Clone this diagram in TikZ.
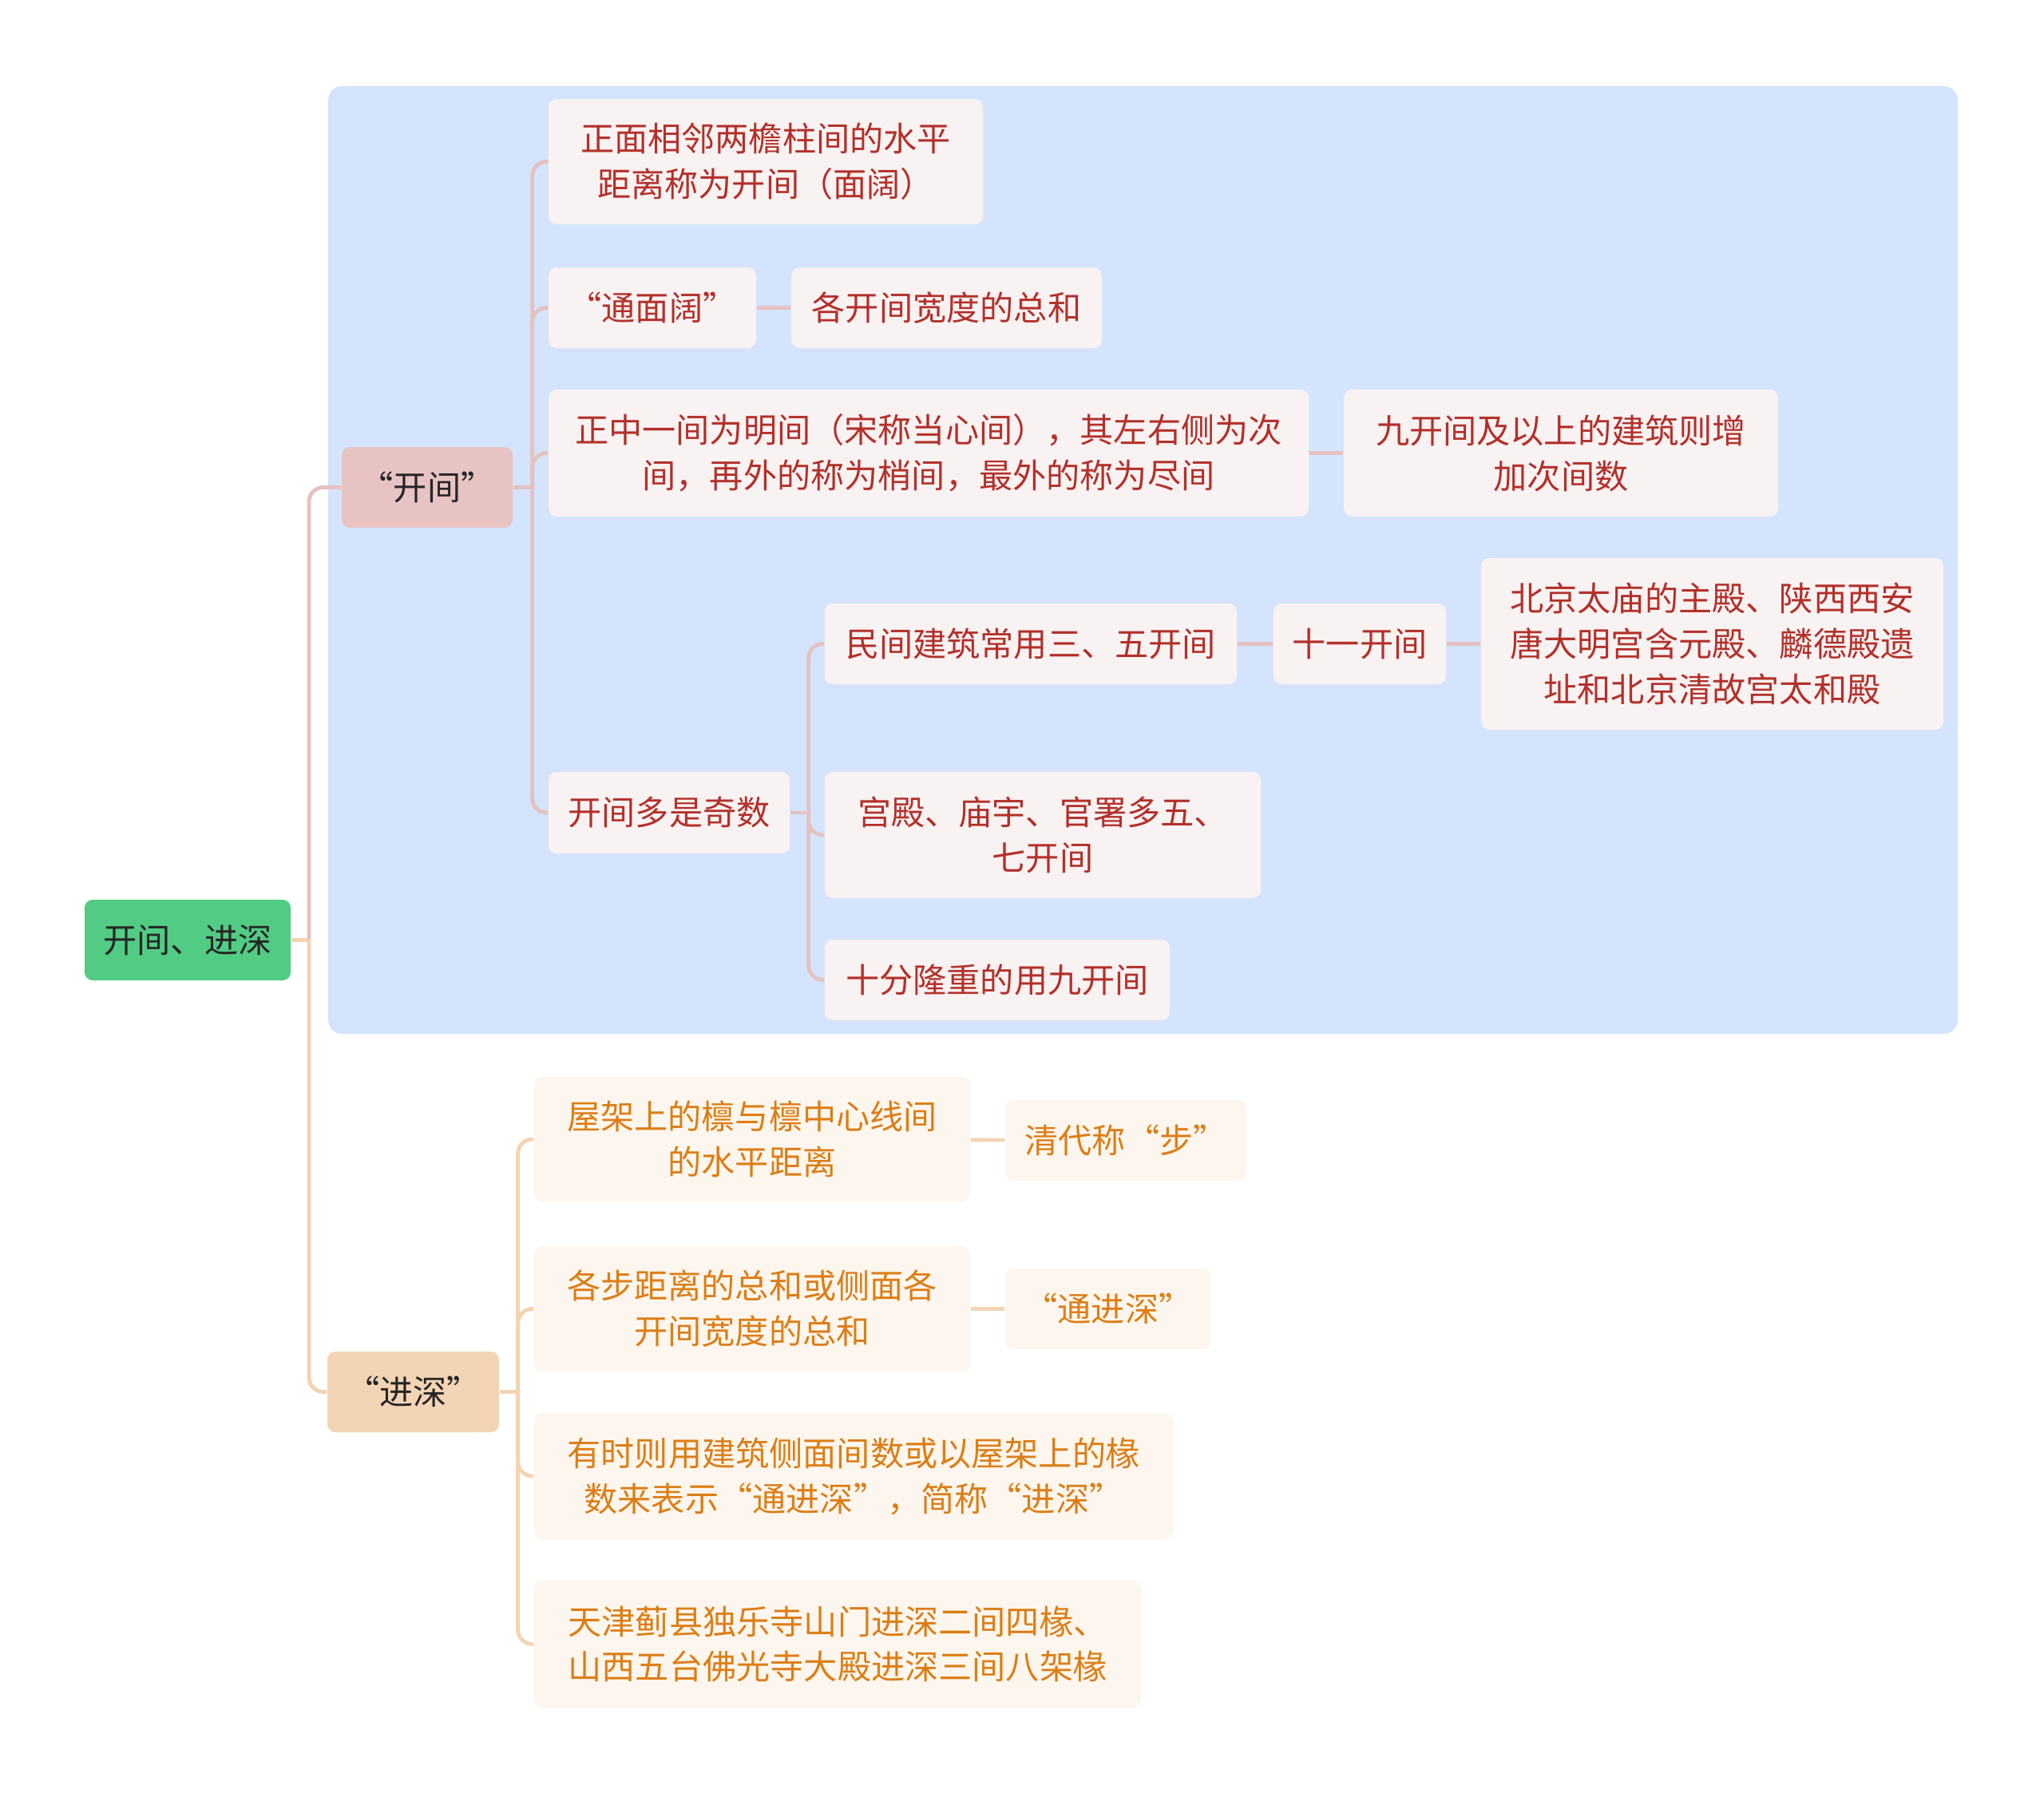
\documentclass[tikz,border=0pt]{standalone}
\usepackage{fontspec}
\setmainfont{Noto Sans CJK SC}
\definecolor{bgblue}{HTML}{D4E4FC}
\definecolor{rootgreen}{HTML}{52CB84}
\definecolor{kjmain}{HTML}{E8C3C3}
\definecolor{jsmain}{HTML}{F3D5B5}
\definecolor{kjfill}{HTML}{F8F2F2}
\definecolor{jsfill}{HTML}{FDF6EE}
\definecolor{kjtext}{HTML}{B3302A}
\definecolor{jstext}{HTML}{DC7E16}
\definecolor{kjedge}{HTML}{E5C1C1}
\definecolor{jsedge}{HTML}{F2D4B3}
\definecolor{darktext}{HTML}{262626}
\begin{document}
\begin{tikzpicture}[font=\fontsize{12}{16.2}\selectfont,
  box/.style={rounded corners=0.1cm, inner sep=0pt, align=center},
  mainbox/.style={box, text=darktext, minimum height=1.01cm},
  kjleaf/.style={box, fill=kjfill, text=kjtext},
  jsleaf/.style={box, fill=jsfill, text=jstext},
  kjline/.style={draw=kjedge, line width=1.4pt, rounded corners=0.18cm},
  jsline/.style={draw=jsedge, line width=1.4pt, rounded corners=0.18cm}]
  \useasboundingbox (0,0) rectangle (25.6,-22.46);
  % blue frame behind the first branch
  \fill[bgblue, rounded corners=0.17cm] (4.11,-1.08) rectangle (24.52,-12.95);

  \node[mainbox, fill=rootgreen, minimum width=2.58cm] (root) at (2.35,-11.775) {开间、进深};
  \node[mainbox, fill=kjmain, minimum width=2.14cm] (kj) at (5.35,-6.105) {“开间”};
  \node[mainbox, fill=jsmain, minimum width=2.15cm] (js) at (5.175,-17.435) {“进深”};

  % 开间
  \node[kjleaf, minimum width=5.44cm, minimum height=1.57cm] (n1) at (9.59,-2.025)
    {正面相邻两檐柱间的水平\\距离称为开间（面阔）};
  \node[kjleaf, minimum width=2.60cm, minimum height=1.01cm] (n2) at (8.17,-3.855) {“通面阔”};
  \node[kjleaf, minimum width=3.89cm, minimum height=1.01cm] (n3) at (11.855,-3.855) {各开间宽度的总和};
  \node[kjleaf, minimum width=9.52cm, minimum height=1.59cm] (n4) at (11.63,-5.675)
    {正中一间为明间（宋称当心间），其左右侧为次\\间，再外的称为梢间，最外的称为尽间};
  \node[kjleaf, minimum width=5.44cm, minimum height=1.59cm] (n5) at (19.55,-5.675)
    {九开间及以上的建筑则增\\加次间数};
  \node[kjleaf, minimum width=3.02cm, minimum height=1.02cm] (n6) at (8.38,-10.18) {开间多是奇数};
  \node[kjleaf, minimum width=5.16cm, minimum height=1.01cm] (n7) at (12.91,-8.065) {民间建筑常用三、五开间};
  \node[kjleaf, minimum width=2.16cm, minimum height=1.01cm] (n8) at (17.03,-8.065) {十一开间};
  \node[kjleaf, minimum width=5.79cm, minimum height=2.15cm] (n9) at (21.445,-8.065)
    {北京太庙的主殿、陕西西安\\唐大明宫含元殿、麟德殿遗\\址和北京清故宫太和殿};
  \node[kjleaf, minimum width=5.46cm, minimum height=1.58cm] (n10) at (13.06,-10.46)
    {宫殿、庙宇、官署多五、\\七开间};
  \node[kjleaf, minimum width=4.32cm, minimum height=1.01cm] (n11) at (12.49,-12.275) {十分隆重的用九开间};

  % 进深
  \node[jsleaf, minimum width=5.46cm, minimum height=1.56cm] (m1) at (9.42,-14.27)
    {屋架上的檩与檩中心线间\\的水平距离};
  \node[jsleaf, minimum width=3.02cm, minimum height=1.01cm] (m2) at (14.10,-14.285) {清代称“步”};
  \node[jsleaf, minimum width=5.46cm, minimum height=1.57cm] (m3) at (9.42,-16.395)
    {各步距离的总和或侧面各\\开间宽度的总和};
  \node[jsleaf, minimum width=2.58cm, minimum height=1.01cm] (m4) at (13.88,-16.395) {“通进深”};
  \node[jsleaf, minimum width=8.00cm, minimum height=1.58cm] (m5) at (10.69,-18.49)
    {有时则用建筑侧面间数或以屋架上的椽\\数来表示“通进深”，简称“进深”};
  \node[jsleaf, minimum width=7.60cm, minimum height=1.59cm] (m6) at (10.49,-20.595)
    {天津蓟县独乐寺山门进深二间四椽、\\山西五台佛光寺大殿进深三间八架椽};

  % connectors
  \draw[jsline] (root.east) -- (3.87,-11.775) coordinate (rj);
  \draw[kjline] (rj) |- (kj.west);
  \draw[jsline] (rj) |- (js.west);

  \draw[kjline] (kj.east) -- ++(0.24,0) coordinate (kjj);
  \foreach \n in {n1,n2,n4,n6}
    \draw[kjline] (kjj) |- (\n.west);
  \draw[kjline] (n6.east) -- ++(0.23,0) coordinate (n6j);
  \foreach \n in {n7,n10,n11}
    \draw[kjline] (n6j) |- (\n.west);
  \draw[kjline] (n2) -- (n3);
  \draw[kjline] (n4) -- (n5);
  \draw[kjline] (n7) -- (n8);
  \draw[kjline] (n8) -- (n9);

  \draw[jsline] (js.east) -- ++(0.23,0) coordinate (jsj);
  \foreach \n in {m1,m3,m5,m6}
    \draw[jsline] (jsj) |- (\n.west);
  \draw[jsline] (m1) -- (m2);
  \draw[jsline] (m3) -- (m4);
\end{tikzpicture}
\end{document}
